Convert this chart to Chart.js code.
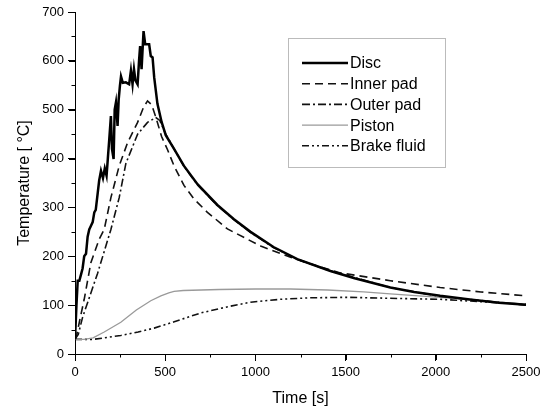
<!DOCTYPE html>
<html lang="en">
<head>
  <meta charset="UTF-8" />
  <title>Brake temperatures</title>
  <script src="https://cdn.jsdelivr.net/npm/chart.js"></script>
  <style>
    html, body { margin: 0; padding: 0; background: #fff; }
    #wrap { width: 554px; height: 409px; }
  </style>
</head>
<body>
<div id="wrap"><canvas id="tempChart" width="554" height="409"></canvas></div>
<script>
  // time [s] / temperature [°C]
  const discT = [0, 8, 15, 24, 35, 42, 51, 61, 70, 79, 88, 98, 107, 115, 126, 134, 144, 155, 165, 175, 182, 190, 199, 205, 214, 220, 227, 236, 242, 249, 255, 265, 282, 300, 310, 319, 327, 335, 347, 355, 361, 369, 380, 389, 400, 411, 420, 430, 439, 457, 480, 503, 549, 604, 680, 789, 881, 973, 1100, 1232, 1416, 1550, 1748, 1880, 2024, 2200, 2350, 2500];
  const discV = [30, 100, 150, 150, 165, 175, 200, 205, 240, 255, 262, 270, 290, 295, 330, 355, 375, 360, 380, 365, 400, 440, 487, 420, 399, 500, 515, 467, 520, 549, 568, 555, 556, 552, 580, 552, 583, 560, 552, 600, 630, 583, 661, 634, 634, 634, 610, 607, 566, 512, 475, 448, 420, 385, 347, 305, 276, 250, 219, 194, 170, 155, 136, 127, 119, 111, 105, 101];

  const innerT = [0, 10, 24, 51, 88, 134, 162, 199, 245, 292, 347, 380, 402, 425, 448, 480, 513, 549, 604, 660, 734, 845, 1029, 1195, 1300, 1471, 1748, 2024, 2250, 2500];
  const innerV = [30, 40, 65, 112, 187, 235, 255, 320, 385, 433, 474, 505, 518, 510, 485, 445, 418, 385, 345, 317, 290, 256, 221, 198, 185, 166, 150, 136, 127, 119];

  const outerT = [0, 18, 42, 79, 125, 162, 199, 245, 282, 347, 402, 448, 470, 503, 549, 604, 680, 789, 881, 973, 1100, 1232, 1416, 1748, 2024, 2500];
  const outerV = [30, 40, 75, 115, 165, 210, 255, 320, 390, 450, 474, 484, 478, 450, 420, 384, 346, 304, 275, 249, 218, 194, 170, 136, 118, 100];

  const pistonT = [0, 50, 100, 162, 254, 340, 420, 476, 520, 549, 600, 800, 1000, 1195, 1400, 1600, 1748, 2024, 2250, 2500];
  const pistonV = [30, 30, 33, 45, 65, 90, 109, 119, 125, 128, 130, 132, 133, 133, 131, 127, 123, 116, 109, 102];

  const brakeT = [0, 100, 162, 254, 350, 439, 550, 697, 850, 973, 1139, 1300, 1508, 1748, 2024, 2250, 2500];
  const brakeV = [30, 30, 33, 38, 45, 53, 66, 84, 97, 106, 112, 115, 116, 114, 112, 107, 102];

  const xTicks = [0, 500, 1000, 1500, 2000, 2500];
  const yTicks = [0, 100, 200, 300, 400, 500, 600, 700];

  function pts(t, v) { return t.map((x, i) => ({ x: x, y: v[i] })); }

  const FONT = '"Liberation Sans", Arial, sans-serif';

  // outward tick marks: long at labelled values, short halfway between
  const axisTicks = {
    id: 'axisTicks',
    afterDraw(chart) {
      const ctx = chart.ctx, xs = chart.scales.x, ys = chart.scales.y;
      const a = chart.chartArea;
      ctx.save();
      ctx.strokeStyle = '#000';
      ctx.lineWidth = 1;
      ctx.beginPath();
      xTicks.forEach((v, i) => {
        let px = Math.round(xs.getPixelForValue(v)) + 0.5;
        ctx.moveTo(px, a.bottom); ctx.lineTo(px, a.bottom + 6);
        if (i < xTicks.length - 1) {
          px = Math.round(xs.getPixelForValue((v + xTicks[i + 1]) / 2)) + 0.5;
          ctx.moveTo(px, a.bottom); ctx.lineTo(px, a.bottom + 3.5);
        }
      });
      yTicks.forEach((v, i) => {
        let py = Math.round(ys.getPixelForValue(v)) + 0.5;
        ctx.moveTo(a.left, py); ctx.lineTo(a.left - 6, py);
        if (i < yTicks.length - 1) {
          py = Math.round(ys.getPixelForValue((v + yTicks[i + 1]) / 2)) + 0.5;
          ctx.moveTo(a.left, py); ctx.lineTo(a.left - 3.5, py);
        }
      });
      ctx.stroke();
      ctx.restore();
    }
  };

  // boxed legend inside the plot, top right
  const boxLegend = {
    id: 'boxLegend',
    afterDraw(chart) {
      const ctx = chart.ctx;
      const bx = 288.5, by = 38.5, bw = 157, bh = 129;
      ctx.save();
      ctx.strokeStyle = '#777';
      ctx.lineWidth = 1;
      ctx.setLineDash([1, 1]);
      ctx.strokeRect(bx, by, bw, bh);
      ctx.font = '16px ' + FONT;
      ctx.fillStyle = '#000';
      ctx.textBaseline = 'middle';
      chart.data.datasets.forEach((ds, i) => {
        const y = 63 + i * 20.7;
        ctx.strokeStyle = ds.borderColor;
        ctx.lineWidth = ds.borderWidth;
        ctx.setLineDash(ds.borderDash || []);
        ctx.beginPath();
        ctx.moveTo(302, y); ctx.lineTo(348, y);
        ctx.stroke();
        ctx.fillText(ds.label, 350, y + 1);
      });
      ctx.restore();
    }
  };

  const line = (label, t, v, color, width, dash) => ({
    label: label,
    data: pts(t, v),
    borderColor: color,
    borderWidth: width,
    borderDash: dash,
    pointRadius: 0,
    tension: 0,
    fill: false
  });

  new Chart(document.getElementById('tempChart'), {
    type: 'line',
    data: {
      datasets: [
        line('Disc', discT, discV, '#000', 2.5, []),
        line('Inner pad', innerT, innerV, '#111', 1.6, [8, 5]),
        line('Outer pad', outerT, outerV, '#111', 1.6, [8, 3, 2, 3]),
        line('Piston', pistonT, pistonV, '#9a9a9a', 1.3, []),
        line('Brake fluid', brakeT, brakeV, '#111', 1.6, [7, 3, 2, 3, 2, 3])
      ]
    },
    options: {
      responsive: false,
      animation: false,
      layout: { padding: { top: 12, right: 28, bottom: 0, left: 0 } },
      plugins: { legend: { display: false }, tooltip: { enabled: false } },
      scales: {
        x: {
          type: 'linear',
          min: 0, max: 2500,
          afterFit(s) { s.height = 55; },
          afterBuildTicks(s) { s.ticks = xTicks.map(v => ({ value: v })); },
          border: { display: true, color: '#000', width: 1 },
          grid: { drawOnChartArea: false, drawTicks: true, tickLength: 7, tickColor: '#000' },
          ticks: { color: '#000', font: { family: FONT, size: 13 }, padding: 4, maxRotation: 0, callback: v => String(v) },
          title: { display: true, text: 'Time [s]', color: '#000', font: { family: FONT, size: 16 }, padding: { top: 0, bottom: 1 } }
        },
        y: {
          min: 0, max: 700,
          afterFit(s) { s.width = 75; },
          afterBuildTicks(s) { s.ticks = yTicks.map(v => ({ value: v })); },
          border: { display: true, color: '#000', width: 1 },
          grid: { drawOnChartArea: false, drawTicks: true, tickLength: 7, tickColor: '#000' },
          ticks: { color: '#000', font: { family: FONT, size: 13 }, padding: 4, callback: v => String(v) },
          title: { display: true, text: 'Temperature [ \u00B0C]', color: '#000', font: { family: FONT, size: 16 }, padding: { top: 15, bottom: 0 } }
        }
      }
    },
    plugins: [axisTicks, boxLegend]
  });
</script>
</body>
</html>
